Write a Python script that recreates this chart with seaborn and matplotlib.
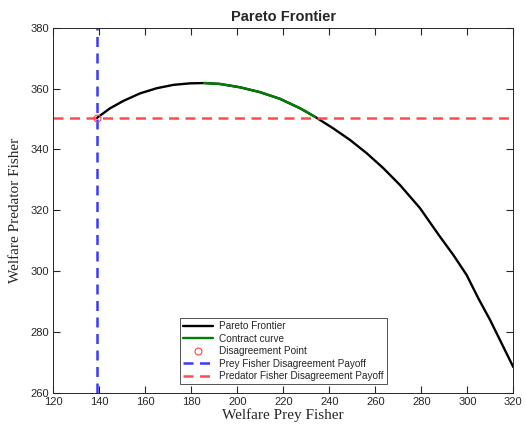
import matplotlib
matplotlib.use("Agg")
import matplotlib.pyplot as plt
import seaborn as sns
import pandas as pd

# Pareto frontier: welfare of prey fisher vs. predator fisher
frontier_x = [138.9, 144.7, 150.4, 157.7, 165.0, 172.2, 179.4, 185.6, 192.5, 201.2,
              209.9, 218.6, 227.3, 233.8, 241.7, 249.0, 256.3, 263.5, 270.7, 279.4,
              288.1, 293.9, 299.7, 304.8, 309.9, 320.0]
frontier_y = [350.3, 353.5, 355.9, 358.4, 360.1, 361.2, 361.7, 361.8, 361.5, 360.4,
              358.8, 356.6, 353.5, 350.7, 346.9, 343.1, 338.7, 333.8, 328.3, 320.7,
              311.3, 305.3, 298.7, 291.0, 283.9, 268.4]

# Contract curve: part of the frontier above both disagreement payoffs
contract_x = [185.6, 192.5, 201.2, 209.9, 218.6, 227.3, 233.8]
contract_y = [361.8, 361.5, 360.4, 358.8, 356.6, 353.5, 350.7]

# Disagreement payoffs
prey_payoff = 138.9
predator_payoff = 350.3

sns.set_style("ticks")
plt.rcParams["font.family"] = ["Liberation Sans", "DejaVu Sans"]

fig = plt.figure(figsize=(5.26, 4.26), dpi=100)
ax = fig.add_axes([0.1013, 0.0782, 0.8746, 0.8568])

df_front = pd.DataFrame({"x": frontier_x, "y": frontier_y})
df_contract = pd.DataFrame({"x": contract_x, "y": contract_y})

sns.lineplot(data=df_front, x="x", y="y", sort=False, color="black", lw=1.7,
             ax=ax, label="Pareto Frontier")
sns.lineplot(data=df_contract, x="x", y="y", sort=False, color="#008000", lw=1.7,
             ax=ax, label="Contract curve")
ax.plot([prey_payoff], [predator_payoff], "o", mfc="none", mec="#ff4444",
        ms=5, mew=0.8, label="Disagreement Point", zorder=5)
ax.axvline(prey_payoff, color="#3a3aff", ls=(0, (4, 2.6)), lw=1.8,
           label="Prey Fisher Disagreement Payoff")
ax.axhline(predator_payoff, color="#ff4d4d", ls=(0, (4, 2.6)), lw=1.8,
           label="Predator Fisher Disagreement Payoff")

ax.set_xlim(120, 320)
ax.set_ylim(260, 380)
ax.set_xticks(range(120, 321, 20))
ax.set_yticks(range(260, 381, 20))
ax.tick_params(axis="both", which="major", direction="in", length=5, width=0.8,
               labelsize=8, bottom=True, left=True, top=True, right=True,
               color="#262626", labelcolor="#262626", pad=3)
for axis in (ax.xaxis, ax.yaxis):
    for t in axis.get_major_ticks():
        t.tick1line.set_visible(True)
        t.tick2line.set_visible(True)
        t.tick1line.set_markersize(5)
        t.tick2line.set_markersize(5)
        t.tick1line.set_markeredgewidth(0.8)
        t.tick2line.set_markeredgewidth(0.8)
for s in ax.spines.values():
    s.set_visible(True)
    s.set_linewidth(0.7)
    s.set_color("#262626")

ax.set_xlabel("Welfare Prey Fisher", family="Liberation Serif", fontsize=11,
              labelpad=1)
ax.set_ylabel("Welfare Predator Fisher", family="Liberation Serif", fontsize=11,
              labelpad=6)
ax.set_title("Pareto Frontier", fontsize=10.5, fontweight="bold", pad=5)

leg = ax.legend(loc="lower center", bbox_to_anchor=(0.5, 0.010), fontsize=7.2,
                frameon=True, fancybox=False, edgecolor="#262626",
                handlelength=3.0, borderpad=0.3, labelspacing=0.25,
                handletextpad=0.6)
leg.get_frame().set_linewidth(0.7)

fig.savefig("out.png", dpi=100)
